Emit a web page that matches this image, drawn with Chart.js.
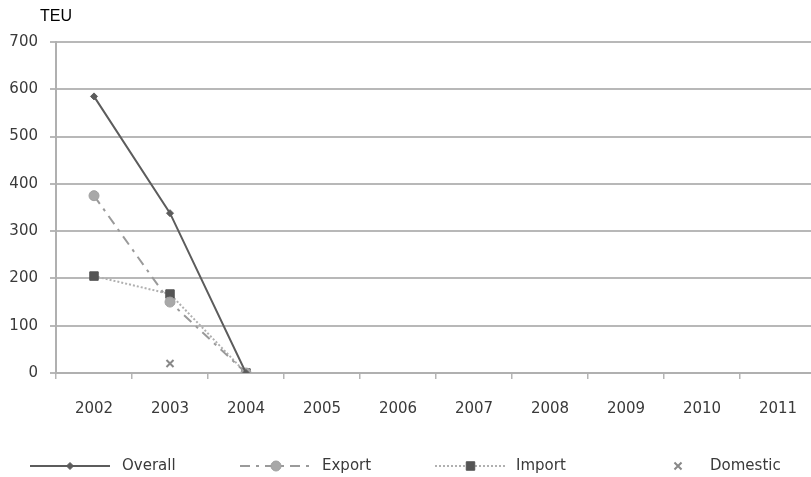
<!DOCTYPE html>
<html>
<head>
<meta charset="utf-8">
<script src="https://cdn.jsdelivr.net/npm/chart.js@4/dist/chart.umd.min.js"></script>
<style>
  html, body { margin: 0; padding: 0; background: #fff; overflow: hidden; }
  #wrap { position: relative; width: 811px; height: 477px; overflow: hidden; }
  #unit { position: absolute; left: 40px; top: 7px; font: 16px "Liberation Sans", Arial, sans-serif; color: #000; }
  canvas { position: absolute; left: 0; top: 0; }
</style>
</head>
<body>
<div id="wrap">
  <canvas id="c" width="823" height="477"></canvas>
  <div id="unit">TEU</div>
</div>
<script>
const years = ['2002','2003','2004','2005','2006','2007','2008','2009','2010','2011'];
const overall  = [585, 338, 0, null, null, null, null, null, null, null];
const exportTeu = [375, 150, 0, null, null, null, null, null, null, null];
const importTeu = [205, 167, 0, null, null, null, null, null, null, null];
const domestic = [null, 20, null, null, null, null, null, null, null, null];
const yTicks = [0, 100, 200, 300, 400, 500, 600, 700];

const FONT = '"DejaVu Sans", Verdana, sans-serif';

// Legend below the axis: a line sample with the series marker, then its name
const lineLegend = {
  id: 'lineLegend',
  afterDraw(chart) {
    const ctx = chart.ctx;
    const y = 466;
    const items = [
      { ds: 0, x0: 30, x1: 110, tx: 122 },
      { ds: 1, x0: 240, x1: 312, tx: 322 },
      { ds: 2, x0: 435, x1: 506, tx: 516 },
      { ds: 3, x0: 662, x1: 694, tx: 710 }
    ];
    ctx.save();
    items.forEach(it => {
      const ds = chart.data.datasets[it.ds];
      if (ds.showLine !== false) {
        ctx.beginPath();
        ctx.strokeStyle = ds.borderColor;
        ctx.lineWidth = ds.borderWidth;
        ctx.setLineDash(ds.borderDash || []);
        ctx.moveTo(it.x0, y);
        ctx.lineTo(it.x1, y);
        ctx.stroke();
        ctx.setLineDash([]);
      }
      ctx.fillStyle = ds.pointBackgroundColor;
      ctx.strokeStyle = ds.pointBorderColor;
      ctx.lineWidth = ds.pointBorderWidth;
      Chart.helpers.drawPoint(ctx, {
        pointStyle: ds.pointStyle,
        radius: ds.pointRadius,
        rotation: 0,
        borderWidth: ds.pointBorderWidth
      }, (it.x0 + it.x1) / 2, y);
      ctx.fillStyle = '#3a3a3a';
      ctx.font = '15px ' + FONT;
      ctx.textBaseline = 'middle';
      ctx.textAlign = 'left';
      ctx.fillText(ds.label, it.tx, y);
    });
    ctx.restore();
  }
};

new Chart(document.getElementById('c'), {
  type: 'line',
  data: {
    labels: years,
    datasets: [
      {
        label: 'Overall', data: overall,
        borderColor: '#5c5c5c', borderWidth: 2,
        pointStyle: 'rectRot', pointRadius: 3.5, pointBorderWidth: 1,
        pointBackgroundColor: '#5c5c5c', pointBorderColor: '#5c5c5c',
        tension: 0
      },
      {
        label: 'Export', data: exportTeu,
        borderColor: '#9a9a9a', borderWidth: 2, borderDash: [10, 6, 3, 6],
        pointStyle: 'circle', pointRadius: 5, pointBorderWidth: 1,
        pointBackgroundColor: '#a8a8a8', pointBorderColor: '#a0a0a0',
        tension: 0
      },
      {
        label: 'Import', data: importTeu,
        borderColor: '#b0b0b0', borderWidth: 2, borderDash: [2, 2],
        pointStyle: 'rect', pointRadius: 6, pointBorderWidth: 1,
        pointBackgroundColor: '#555', pointBorderColor: '#555',
        tension: 0
      },
      {
        label: 'Domestic', data: domestic, showLine: false,
        borderColor: '#888', borderWidth: 2,
        pointStyle: 'crossRot', pointRadius: 5, pointBorderWidth: 2,
        pointBackgroundColor: '#888', pointBorderColor: '#888'
      }
    ]
  },
  options: {
    responsive: false,
    animation: false,
    layout: { padding: { top: 42, right: 0, bottom: 54, left: 0 } },
    plugins: {
      legend: { display: false },
      tooltip: { enabled: false }
    },
    scales: {
      x: {
        offset: true,
        grid: {
          offset: true, drawOnChartArea: false, drawTicks: true,
          tickLength: 6, color: '#b5b5b5', lineWidth: 1.5
        },
        border: { display: true, color: '#b0b0b0', width: 2 },
        ticks: {
          color: '#3a3a3a', font: { family: FONT, size: 15 }, padding: 21,
          maxRotation: 0, autoSkip: false
        },
        afterFit(axis) { axis.height = 50; }
      },
      y: {
        min: 0, max: 700,
        afterBuildTicks(axis) { axis.ticks = yTicks.map(v => ({ value: v })); },
        grid: { color: '#b8b8b8', lineWidth: 2, tickLength: 6 },
        border: { display: true, color: '#b0b0b0', width: 2 },
        ticks: { color: '#3a3a3a', font: { family: FONT, size: 15 }, padding: 12 },
        afterFit(axis) { axis.width = 56; }
      }
    }
  },
  plugins: [lineLegend]
});
</script>
</body>
</html>
